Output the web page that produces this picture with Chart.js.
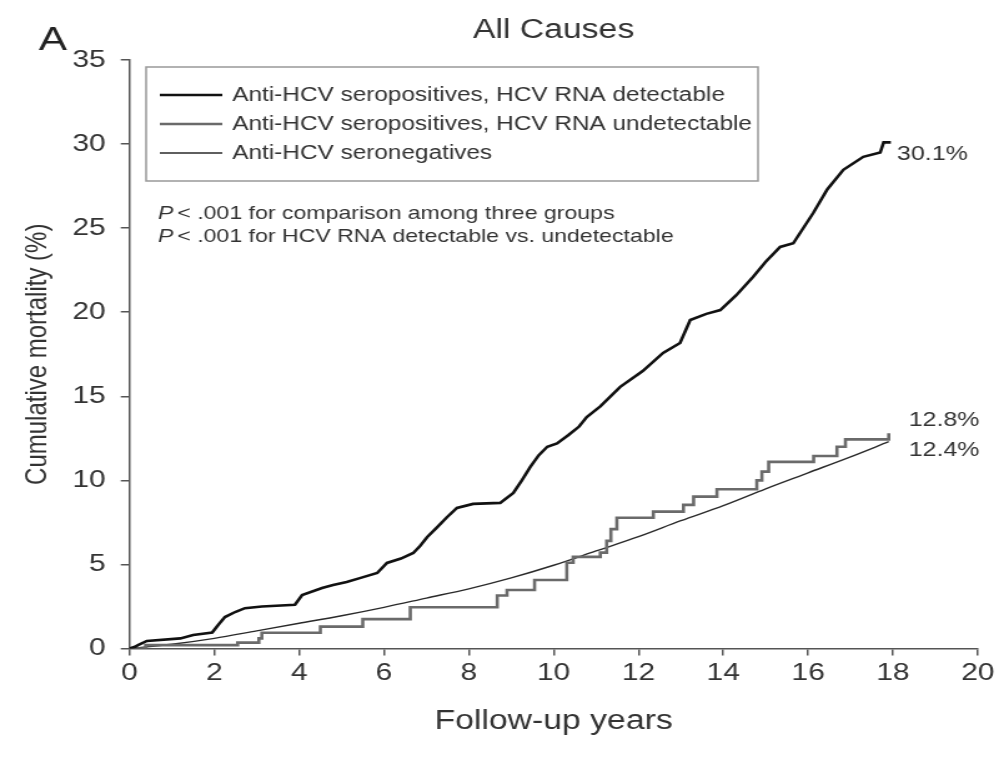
<!DOCTYPE html>
<html>
<head>
<meta charset="utf-8">
<script src="https://cdn.jsdelivr.net/npm/chart.js@4.4.1/dist/chart.umd.min.js"></script>
<style>
    html, body { margin: 0; padding: 0; background: #fff; overflow: hidden; }
    /* the original figure is stretched sideways, so the chart is drawn narrow and widened */
    #wrap { width: 800px; height: 758px; transform: scaleX(1.24875); transform-origin: 0 0; }
</style>
</head>
<body>
<div id="wrap"><canvas id="mortalityChart" width="800" height="758"></canvas></div>
<script>
const chartTitle = "All Causes";
const panelLetter = "A";
const xTitle = "Follow-up years";
const yTitle = "Cumulative mortality (%)";

const xMin = 0, xMax = 20, xStep = 2;
const yMin = 0, yMax = 35, yStep = 5;

const seriesLabels = [
    "Anti-HCV seropositives, HCV RNA detectable",
    "Anti-HCV seropositives, HCV RNA undetectable",
    "Anti-HCV seronegatives"
];
const endLabels = ["30.1%", "12.8%", "12.4%"];
const pValueNotes = [
    " < .001 for comparison among three groups",
    " < .001 for HCV RNA detectable vs. undetectable"
];

// cumulative mortality curves (years, %)
const detectableYears = [0, 0.13, 0.2, 0.41, 1.2, 1.5, 1.95, 2.09, 2.25, 2.49, 2.72, 3.12, 3.9, 4.07, 4.54, 4.8, 5.12, 5.45, 5.84, 6.07, 6.4, 6.69, 6.85, 7.02, 7.25, 7.49, 7.72, 8.1, 8.74, 9.05, 9.25, 9.45, 9.65, 9.85, 10.08, 10.35, 10.6, 10.78, 11.1, 11.57, 12.1, 12.58, 12.98, 13.22, 13.6, 13.93, 14.3, 14.7, 15.0, 15.34, 15.65, 16.12, 16.45, 16.83, 17.3, 17.7, 17.78, 17.95];
const detectableMortality = [0, 0.1, 0.2, 0.45, 0.6, 0.8, 0.95, 1.4, 1.87, 2.17, 2.4, 2.5, 2.6, 3.18, 3.6, 3.78, 3.95, 4.2, 4.49, 5.09, 5.35, 5.68, 6.1, 6.63, 7.2, 7.82, 8.36, 8.6, 8.66, 9.25, 10.0, 10.8, 11.5, 12.0, 12.2, 12.7, 13.2, 13.77, 14.4, 15.56, 16.5, 17.58, 18.17, 19.54, 19.9, 20.13, 21.0, 22.1, 23.0, 23.88, 24.1, 25.9, 27.3, 28.47, 29.24, 29.5, 30.1, 30.1];

const undetectableYears = [0, 0.38, 2.55, 3.05, 3.12, 4.5, 5.5, 6.62, 8.67, 8.9, 9.55, 10.31, 10.46, 11.1, 11.25, 11.35, 11.49, 12.35, 13.06, 13.3, 13.85, 14.79, 14.91, 15.07, 16.13, 16.68, 16.88, 17.86, 17.9];
const undetectableMortality = [0, 0.2, 0.35, 0.6, 0.94, 1.3, 1.75, 2.45, 3.15, 3.48, 4.07, 5.1, 5.45, 5.7, 6.4, 7.1, 7.78, 8.14, 8.54, 9.03, 9.47, 10.0, 10.52, 11.1, 11.45, 12.0, 12.44, 12.44, 12.8];

const seronegativeYears = [0, 1, 2, 3, 4, 5, 6, 7, 8, 9, 10, 11, 12, 13, 14, 15, 16, 17, 17.9];
const seronegativeMortality = [0, 0.25, 0.6, 1.05, 1.5, 1.95, 2.45, 3.0, 3.55, 4.2, 4.95, 5.8, 6.65, 7.6, 8.5, 9.5, 10.45, 11.4, 12.3];

const fontFamily = "'Liberation Sans', Arial, sans-serif";
const textColor = "#333";
const axisColor = "#555";

const toPoints = (xs, ys) => xs.map((x, i) => ({ x: x, y: ys[i] }));

const datasets = [
    {
        label: seriesLabels[0],
        data: toPoints(detectableYears, detectableMortality),
        borderColor: "#111",
        borderWidth: 2.6
    },
    {
        label: seriesLabels[1],
        data: toPoints(undetectableYears, undetectableMortality),
        borderColor: "#6a6a6a",
        borderWidth: 2.6,
        stepped: true
    },
    {
        label: seriesLabels[2],
        data: toPoints(seronegativeYears, seronegativeMortality),
        borderColor: "#2a2a2a",
        borderWidth: 1.4,
        cubicInterpolationMode: "monotone"
    }
];

// legend box, p-values, end labels and panel letter
const annotations = {
    id: "annotations",
    afterDraw(chart) {
        const ctx = chart.ctx;
        const xs = chart.scales.x;
        const ys = chart.scales.y;
        ctx.save();

        ctx.font = "34px " + fontFamily;
        ctx.fillStyle = "#222";
        ctx.textAlign = "left";
        ctx.textBaseline = "alphabetic";
        ctx.fillText(panelLetter, 31, 50);

        // legend
        ctx.strokeStyle = "#999";
        ctx.lineWidth = 1.5;
        ctx.strokeRect(117, 67, 490, 114);
        const rows = [95, 124, 153];
        ctx.font = "19.5px " + fontFamily;
        ctx.textBaseline = "middle";
        chart.data.datasets.forEach((ds, i) => {
            ctx.strokeStyle = ds.borderColor;
            ctx.lineWidth = ds.borderWidth;
            ctx.beginPath();
            ctx.moveTo(128, rows[i]);
            ctx.lineTo(178, rows[i]);
            ctx.stroke();
            ctx.fillStyle = textColor;
            ctx.fillText(ds.label, 186, rows[i] + 1);
        });

        // p-value notes
        const noteRows = [214, 237];
        pValueNotes.forEach((note, i) => {
            ctx.font = "italic 18.5px " + fontFamily;
            ctx.fillText("P", 126.5, noteRows[i]);
            const w = ctx.measureText("P").width;
            ctx.font = "18.5px " + fontFamily;
            ctx.fillText(note, 126.5 + w - 2, noteRows[i]);
        });

        // values at the end of each curve
        ctx.font = "20px " + fontFamily;
        const last = (arr) => arr[arr.length - 1];
        ctx.fillText(endLabels[0], xs.getPixelForValue(last(detectableYears)) + 5, ys.getPixelForValue(last(detectableMortality)) + 12);
        ctx.fillText(endLabels[1], xs.getPixelForValue(last(undetectableYears)) + 16, ys.getPixelForValue(last(undetectableMortality)) - 13);
        ctx.fillText(endLabels[2], xs.getPixelForValue(last(seronegativeYears)) + 16, ys.getPixelForValue(last(seronegativeMortality)) + 9);

        ctx.restore();
    }
};

const ctx = document.getElementById("mortalityChart").getContext("2d");
const mortalityChart = new Chart(ctx, {
    type: "line",
    data: { datasets: datasets },
    options: {
        responsive: false,
        animation: false,
        devicePixelRatio: 1,
        layout: { padding: { top: 0, left: 0, right: 17, bottom: 0 } },
        elements: { point: { radius: 0 }, line: { tension: 0, fill: false } },
        plugins: {
            legend: { display: false },
            tooltip: { enabled: false },
            title: {
                display: true,
                text: chartTitle,
                fullSize: false,
                color: textColor,
                font: { family: fontFamily, size: 27, weight: "normal" },
                padding: { top: 14, bottom: 13.6 }
            }
        },
        scales: {
            x: {
                type: "linear",
                min: xMin,
                max: xMax,
                afterFit: (axis) => { axis.height = 109.5; },
                ticks: { stepSize: xStep, color: textColor, font: { family: fontFamily, size: 24 }, padding: 3, maxRotation: 0 },
                grid: { drawOnChartArea: false, drawTicks: true, tickLength: 7, color: axisColor, lineWidth: 1.5 },
                border: { display: true, color: axisColor, width: 1.5 },
                title: {
                    display: true,
                    text: xTitle,
                    color: textColor,
                    font: { family: fontFamily, size: 27 },
                    padding: { top: 0, bottom: 20 }
                }
            },
            y: {
                min: yMin,
                max: yMax,
                afterFit: (axis) => { axis.width = 103.7; },
                ticks: { stepSize: yStep, color: textColor, font: { family: fontFamily, size: 24 }, padding: 12 },
                grid: { drawOnChartArea: false, drawTicks: true, tickLength: 7, color: axisColor, lineWidth: 1.5 },
                border: { display: true, color: axisColor, width: 1.5 },
                title: {
                    display: true,
                    text: yTitle,
                    color: textColor,
                    font: { family: fontFamily, size: 24 },
                    padding: { top: 16, bottom: 0 }
                }
            }
        }
    },
    plugins: [annotations]
});
</script>
</body>
</html>
